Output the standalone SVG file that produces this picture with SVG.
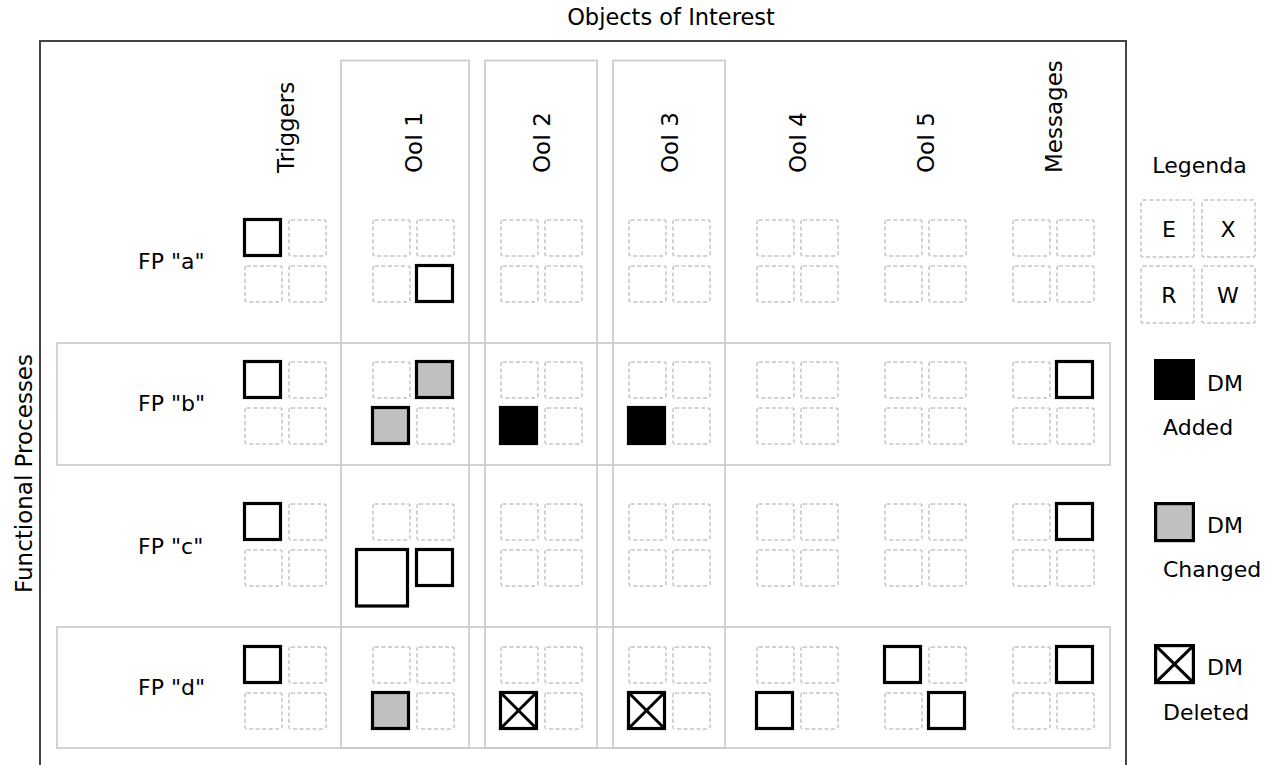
<svg xmlns="http://www.w3.org/2000/svg" xmlns:xlink="http://www.w3.org/1999/xlink" width="1275" height="765" viewBox="0 0 1275 765">
<style>
text{font-family:"DejaVu Sans","Liberation Sans",sans-serif;font-size:22px;fill:#000}
.hdr{font-size:23px}
.frame{fill:none;stroke:#444;stroke-width:2}
.band{fill:none;stroke:#c8c8c8;stroke-width:1.6}
.cell{fill:#fff;stroke:#c4c4c4;stroke-width:1.5;stroke-dasharray:4 2.5}
.mk{fill:#fff;stroke:#000;stroke-width:3.2}
.chg{fill:#c0c0c0;stroke:#000;stroke-width:3.2}
.add{fill:#000;stroke:#000;stroke-width:3.2}
.xl{stroke:#000;stroke-width:3;fill:none}
</style>
<defs>
<rect id="c" width="37" height="36" rx="2" class="cell"/>
<rect id="m" width="36" height="36" class="mk"/>
<rect id="g" width="36" height="36" class="chg"/>
<rect id="a" width="36" height="36" class="add"/>
<g id="d"><rect width="36" height="36" class="mk"/><path d="M0,0L36,36M36,0L0,36" class="xl"/></g>
</defs>

<g id="frame">
<path d="M40,770V41H1126V770" class="frame"/>
<text x="671" y="25" text-anchor="middle" style="font-size:22.5px">Objects of Interest</text>
<text transform="translate(32,593) rotate(-90)" class="hdr">Functional Processes</text>
</g>

<g id="bands">
<rect x="341" y="60.5" width="128" height="687.5" class="band"/>
<rect x="485" y="60.5" width="112" height="687.5" class="band"/>
<rect x="613" y="60.5" width="112" height="687.5" class="band"/>
<rect x="57" y="343" width="1053" height="122" class="band"/>
<rect x="57" y="627" width="1053" height="121" class="band"/>
</g>

<g id="headers">
<text transform="translate(294,173) rotate(-90)" class="hdr">Triggers</text>
<text transform="translate(422,173) rotate(-90)" class="hdr">OoI 1</text>
<text transform="translate(550,173) rotate(-90)" class="hdr">OoI 2</text>
<text transform="translate(678,173) rotate(-90)" class="hdr">OoI 3</text>
<text transform="translate(806,173) rotate(-90)" class="hdr">OoI 4</text>
<text transform="translate(934,173) rotate(-90)" class="hdr">OoI 5</text>
<text transform="translate(1062,173) rotate(-90)" class="hdr">Messages</text>
</g>

<g id="fp-a">
<text x="138" y="269">FP "a"</text>
<g id="fp-a-triggers"><use xlink:href="#m" x="244.5" y="219.5"/><use xlink:href="#c" x="289" y="220"/><use xlink:href="#c" x="245" y="266"/><use xlink:href="#c" x="289" y="266"/></g>
<g id="fp-a-ooi1"><use xlink:href="#c" x="373" y="220"/><use xlink:href="#c" x="417" y="220"/><use xlink:href="#c" x="373" y="266"/><use xlink:href="#m" x="416.5" y="265.5"/></g>
<g id="fp-a-ooi2"><use xlink:href="#c" x="501" y="220"/><use xlink:href="#c" x="545" y="220"/><use xlink:href="#c" x="501" y="266"/><use xlink:href="#c" x="545" y="266"/></g>
<g id="fp-a-ooi3"><use xlink:href="#c" x="629" y="220"/><use xlink:href="#c" x="673" y="220"/><use xlink:href="#c" x="629" y="266"/><use xlink:href="#c" x="673" y="266"/></g>
<g id="fp-a-ooi4"><use xlink:href="#c" x="757" y="220"/><use xlink:href="#c" x="801" y="220"/><use xlink:href="#c" x="757" y="266"/><use xlink:href="#c" x="801" y="266"/></g>
<g id="fp-a-ooi5"><use xlink:href="#c" x="885" y="220"/><use xlink:href="#c" x="929" y="220"/><use xlink:href="#c" x="885" y="266"/><use xlink:href="#c" x="929" y="266"/></g>
<g id="fp-a-messages"><use xlink:href="#c" x="1013" y="220"/><use xlink:href="#c" x="1057" y="220"/><use xlink:href="#c" x="1013" y="266"/><use xlink:href="#c" x="1057" y="266"/></g>
</g>

<g id="fp-b">
<text x="138" y="411">FP "b"</text>
<g id="fp-b-triggers"><use xlink:href="#m" x="244.5" y="361.5"/><use xlink:href="#c" x="289" y="362"/><use xlink:href="#c" x="245" y="408"/><use xlink:href="#c" x="289" y="408"/></g>
<g id="fp-b-ooi1"><use xlink:href="#c" x="373" y="362"/><use xlink:href="#g" x="416.5" y="361.5"/><use xlink:href="#g" x="372.5" y="407.5"/><use xlink:href="#c" x="417" y="408"/></g>
<g id="fp-b-ooi2"><use xlink:href="#c" x="501" y="362"/><use xlink:href="#c" x="545" y="362"/><use xlink:href="#a" x="500.5" y="407.5"/><use xlink:href="#c" x="545" y="408"/></g>
<g id="fp-b-ooi3"><use xlink:href="#c" x="629" y="362"/><use xlink:href="#c" x="673" y="362"/><use xlink:href="#a" x="628.5" y="407.5"/><use xlink:href="#c" x="673" y="408"/></g>
<g id="fp-b-ooi4"><use xlink:href="#c" x="757" y="362"/><use xlink:href="#c" x="801" y="362"/><use xlink:href="#c" x="757" y="408"/><use xlink:href="#c" x="801" y="408"/></g>
<g id="fp-b-ooi5"><use xlink:href="#c" x="885" y="362"/><use xlink:href="#c" x="929" y="362"/><use xlink:href="#c" x="885" y="408"/><use xlink:href="#c" x="929" y="408"/></g>
<g id="fp-b-messages"><use xlink:href="#c" x="1013" y="362"/><use xlink:href="#m" x="1056.5" y="361.5"/><use xlink:href="#c" x="1013" y="408"/><use xlink:href="#c" x="1057" y="408"/></g>
</g>

<g id="fp-c">
<text x="138" y="554">FP "c"</text>
<g id="fp-c-triggers"><use xlink:href="#m" x="244.5" y="503.5"/><use xlink:href="#c" x="289" y="504"/><use xlink:href="#c" x="245" y="550"/><use xlink:href="#c" x="289" y="550"/></g>
<g id="fp-c-ooi1"><use xlink:href="#c" x="373" y="504"/><use xlink:href="#c" x="417" y="504"/><rect x="356.5" y="549.5" width="51" height="56.5" class="mk"/><use xlink:href="#m" x="416.5" y="549.5"/></g>
<g id="fp-c-ooi2"><use xlink:href="#c" x="501" y="504"/><use xlink:href="#c" x="545" y="504"/><use xlink:href="#c" x="501" y="550"/><use xlink:href="#c" x="545" y="550"/></g>
<g id="fp-c-ooi3"><use xlink:href="#c" x="629" y="504"/><use xlink:href="#c" x="673" y="504"/><use xlink:href="#c" x="629" y="550"/><use xlink:href="#c" x="673" y="550"/></g>
<g id="fp-c-ooi4"><use xlink:href="#c" x="757" y="504"/><use xlink:href="#c" x="801" y="504"/><use xlink:href="#c" x="757" y="550"/><use xlink:href="#c" x="801" y="550"/></g>
<g id="fp-c-ooi5"><use xlink:href="#c" x="885" y="504"/><use xlink:href="#c" x="929" y="504"/><use xlink:href="#c" x="885" y="550"/><use xlink:href="#c" x="929" y="550"/></g>
<g id="fp-c-messages"><use xlink:href="#c" x="1013" y="504"/><use xlink:href="#m" x="1056.5" y="503.5"/><use xlink:href="#c" x="1013" y="550"/><use xlink:href="#c" x="1057" y="550"/></g>
</g>

<g id="fp-d">
<text x="138" y="695">FP "d"</text>
<g id="fp-d-triggers"><use xlink:href="#m" x="244.5" y="646.5"/><use xlink:href="#c" x="289" y="647"/><use xlink:href="#c" x="245" y="693"/><use xlink:href="#c" x="289" y="693"/></g>
<g id="fp-d-ooi1"><use xlink:href="#c" x="373" y="647"/><use xlink:href="#c" x="417" y="647"/><use xlink:href="#g" x="372.5" y="692.5"/><use xlink:href="#c" x="417" y="693"/></g>
<g id="fp-d-ooi2"><use xlink:href="#c" x="501" y="647"/><use xlink:href="#c" x="545" y="647"/><use xlink:href="#d" x="500.5" y="692.5"/><use xlink:href="#c" x="545" y="693"/></g>
<g id="fp-d-ooi3"><use xlink:href="#c" x="629" y="647"/><use xlink:href="#c" x="673" y="647"/><use xlink:href="#d" x="628.5" y="692.5"/><use xlink:href="#c" x="673" y="693"/></g>
<g id="fp-d-ooi4"><use xlink:href="#c" x="757" y="647"/><use xlink:href="#c" x="801" y="647"/><use xlink:href="#m" x="756.5" y="692.5"/><use xlink:href="#c" x="801" y="693"/></g>
<g id="fp-d-ooi5"><use xlink:href="#m" x="884.5" y="646.5"/><use xlink:href="#c" x="929" y="647"/><use xlink:href="#c" x="885" y="693"/><use xlink:href="#m" x="928.5" y="692.5"/></g>
<g id="fp-d-messages"><use xlink:href="#c" x="1013" y="647"/><use xlink:href="#m" x="1056.5" y="646.5"/><use xlink:href="#c" x="1013" y="693"/><use xlink:href="#c" x="1057" y="693"/></g>
</g>

<g id="legend">
<text x="1199.5" y="173" text-anchor="middle">Legenda</text>
<rect x="1141" y="200" width="53" height="57" rx="2" class="cell"/>
<rect x="1202" y="200" width="53" height="57" rx="2" class="cell"/>
<rect x="1141" y="266" width="53" height="57" rx="2" class="cell"/>
<rect x="1202" y="266" width="53" height="57" rx="2" class="cell"/>
<text x="1169" y="237" text-anchor="middle">E</text>
<text x="1228" y="237" text-anchor="middle">X</text>
<text x="1169" y="303" text-anchor="middle">R</text>
<text x="1228" y="303" text-anchor="middle">W</text>
<rect x="1155.6" y="360.6" width="37.8" height="37.8" class="add"/>
<text x="1207" y="391">DM</text>
<text x="1163" y="435">Added</text>
<rect x="1155.6" y="503.6" width="37.8" height="37" class="chg"/>
<text x="1207" y="533">DM</text>
<text x="1163" y="577">Changed</text>
<rect x="1155.6" y="645.6" width="37.8" height="37" class="mk"/>
<path d="M1155.6,645.6L1193.4,682.6M1193.4,645.6L1155.6,682.6" class="xl"/>
<text x="1207" y="675">DM</text>
<text x="1163" y="720">Deleted</text>
</g>
</svg>
